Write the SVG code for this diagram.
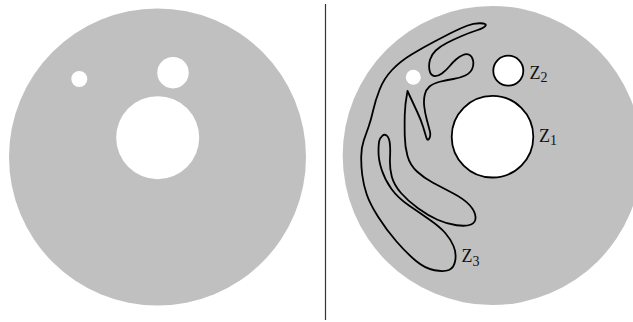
<svg xmlns="http://www.w3.org/2000/svg" width="633" height="322" viewBox="0 0 633 322">
<style>
.disk{fill:#c0c0c0}
.hole{fill:#ffffff}
.ring{fill:#ffffff;stroke:#000;stroke-width:1.8}
.curve{fill:none;stroke:#000;stroke-width:1.8;stroke-linejoin:round}
.lbl{font-family:"Liberation Serif","Times New Roman",serif;font-size:18px;fill:#111}
.sub{font-size:14px}
</style>
<rect width="633" height="322" fill="#ffffff"/>
<g id="left-domain">
<circle class="disk" cx="157.5" cy="157" r="148.5"/>
<circle class="hole" cx="79.3" cy="79" r="8"/>
<circle class="hole" cx="173" cy="72.7" r="15.7"/>
<circle class="hole" cx="157.7" cy="137.7" r="41.5"/>
</g>
<line id="divider" x1="325.5" y1="4" x2="325.5" y2="320" stroke="#333" stroke-width="1.2"/>
<g id="right-domain">
<circle class="disk" cx="492.2" cy="155.5" r="149.5"/>
<circle class="hole" cx="413.3" cy="77.3" r="7.5"/>
</g>
<g id="z2">
<circle class="ring" cx="508.3" cy="70.7" r="15"/>
<text class="lbl" x="529.5" y="79">Z<tspan class="sub" dy="2.5">2</tspan></text>
</g>
<g id="z1">
<circle class="ring" cx="492.5" cy="136.7" r="40.8"/>
<text class="lbl" x="539" y="142.3">Z<tspan class="sub" dy="2.6">1</tspan></text>
</g>
<g id="z3">
<path class="curve" d="M485.5,25.75 Q487,23.5 480.5,23.25 Q474,23 467,25.75 Q460,28.5 453.5,31.75 Q447,35 435,41.25 Q423,47.5 411.5,54.5 Q400,61.5 392,70 Q384,78.5 379.75,89.25 Q375.5,100 373.25,110 Q371,120 368.5,127 Q366,134 363.75,140.5 Q361.5,147 361.25,156 Q361,165 362.25,175 Q363.5,185 366.75,194.5 Q370,204 378.25,217 Q386.5,230 396.5,241.5 Q406.5,253 415.75,260.75 Q425,268.5 434.5,270.25 Q444,272 449,270 Q454,268 455.25,260.5 Q456.5,253 453.5,246 Q450.5,239 445.25,233 Q440,227 430,220 Q420,213 409,205.5 Q398,198 391.5,189 Q385,180 381.75,170 Q378.5,160 378.5,152 Q378.5,144 379.25,141 Q380,138 382.25,135.9 Q384.5,133.8 386.75,135.65 Q389,137.5 389.75,142.75 Q390.5,148 390,158 Q389.5,168 391.75,176.5 Q394,185 401,193 Q408,201 418,208.25 Q428,215.5 437.5,219.75 Q447,224 456.5,225.25 Q466,226.5 471,224.5 Q476,222.5 475.5,216.75 Q475,211 469.5,205 Q464,199 453,193.25 Q442,187.5 433,182.75 Q424,178 417,171.5 Q410,165 407.5,156 Q405,147 404.75,136 Q404.5,125 404.75,114.5 Q405,104 407.5,91 Q413.5,104 417.25,112 Q421,120 423,126.5 Q425,133 426.25,137.25 Q427.5,141.5 429.25,138.5 Q431,135.5 429.75,130.75 Q428.5,126 426.75,119.5 Q425,113 424.25,106.5 Q423.5,100 424.75,94.75 Q426,89.5 429.5,86.5 Q433,83.5 439.75,81.75 Q446.5,80 453.25,79 Q460,78 465.25,75.5 Q470.5,73 472.25,68.75 Q474,64.5 473,60.25 Q472,56 469.25,54.75 Q466.5,53.5 463,55 Q459.5,56.5 456.25,59.25 Q453,62 449.75,66 Q446.5,70 442.25,73.25 Q438,76.5 434.25,76 Q430.5,75.5 429.5,70.25 Q428.5,65 430,59.75 Q431.5,54.5 435.75,50.5 Q440,46.5 446.75,43 Q453.5,39.5 461.75,36 Q470,32.5 477,30.25 Q484,28 485.5,25.75 Z"/>
<text class="lbl" x="461.5" y="262">Z<tspan class="sub" dy="4">3</tspan></text>
</g>
</svg>
